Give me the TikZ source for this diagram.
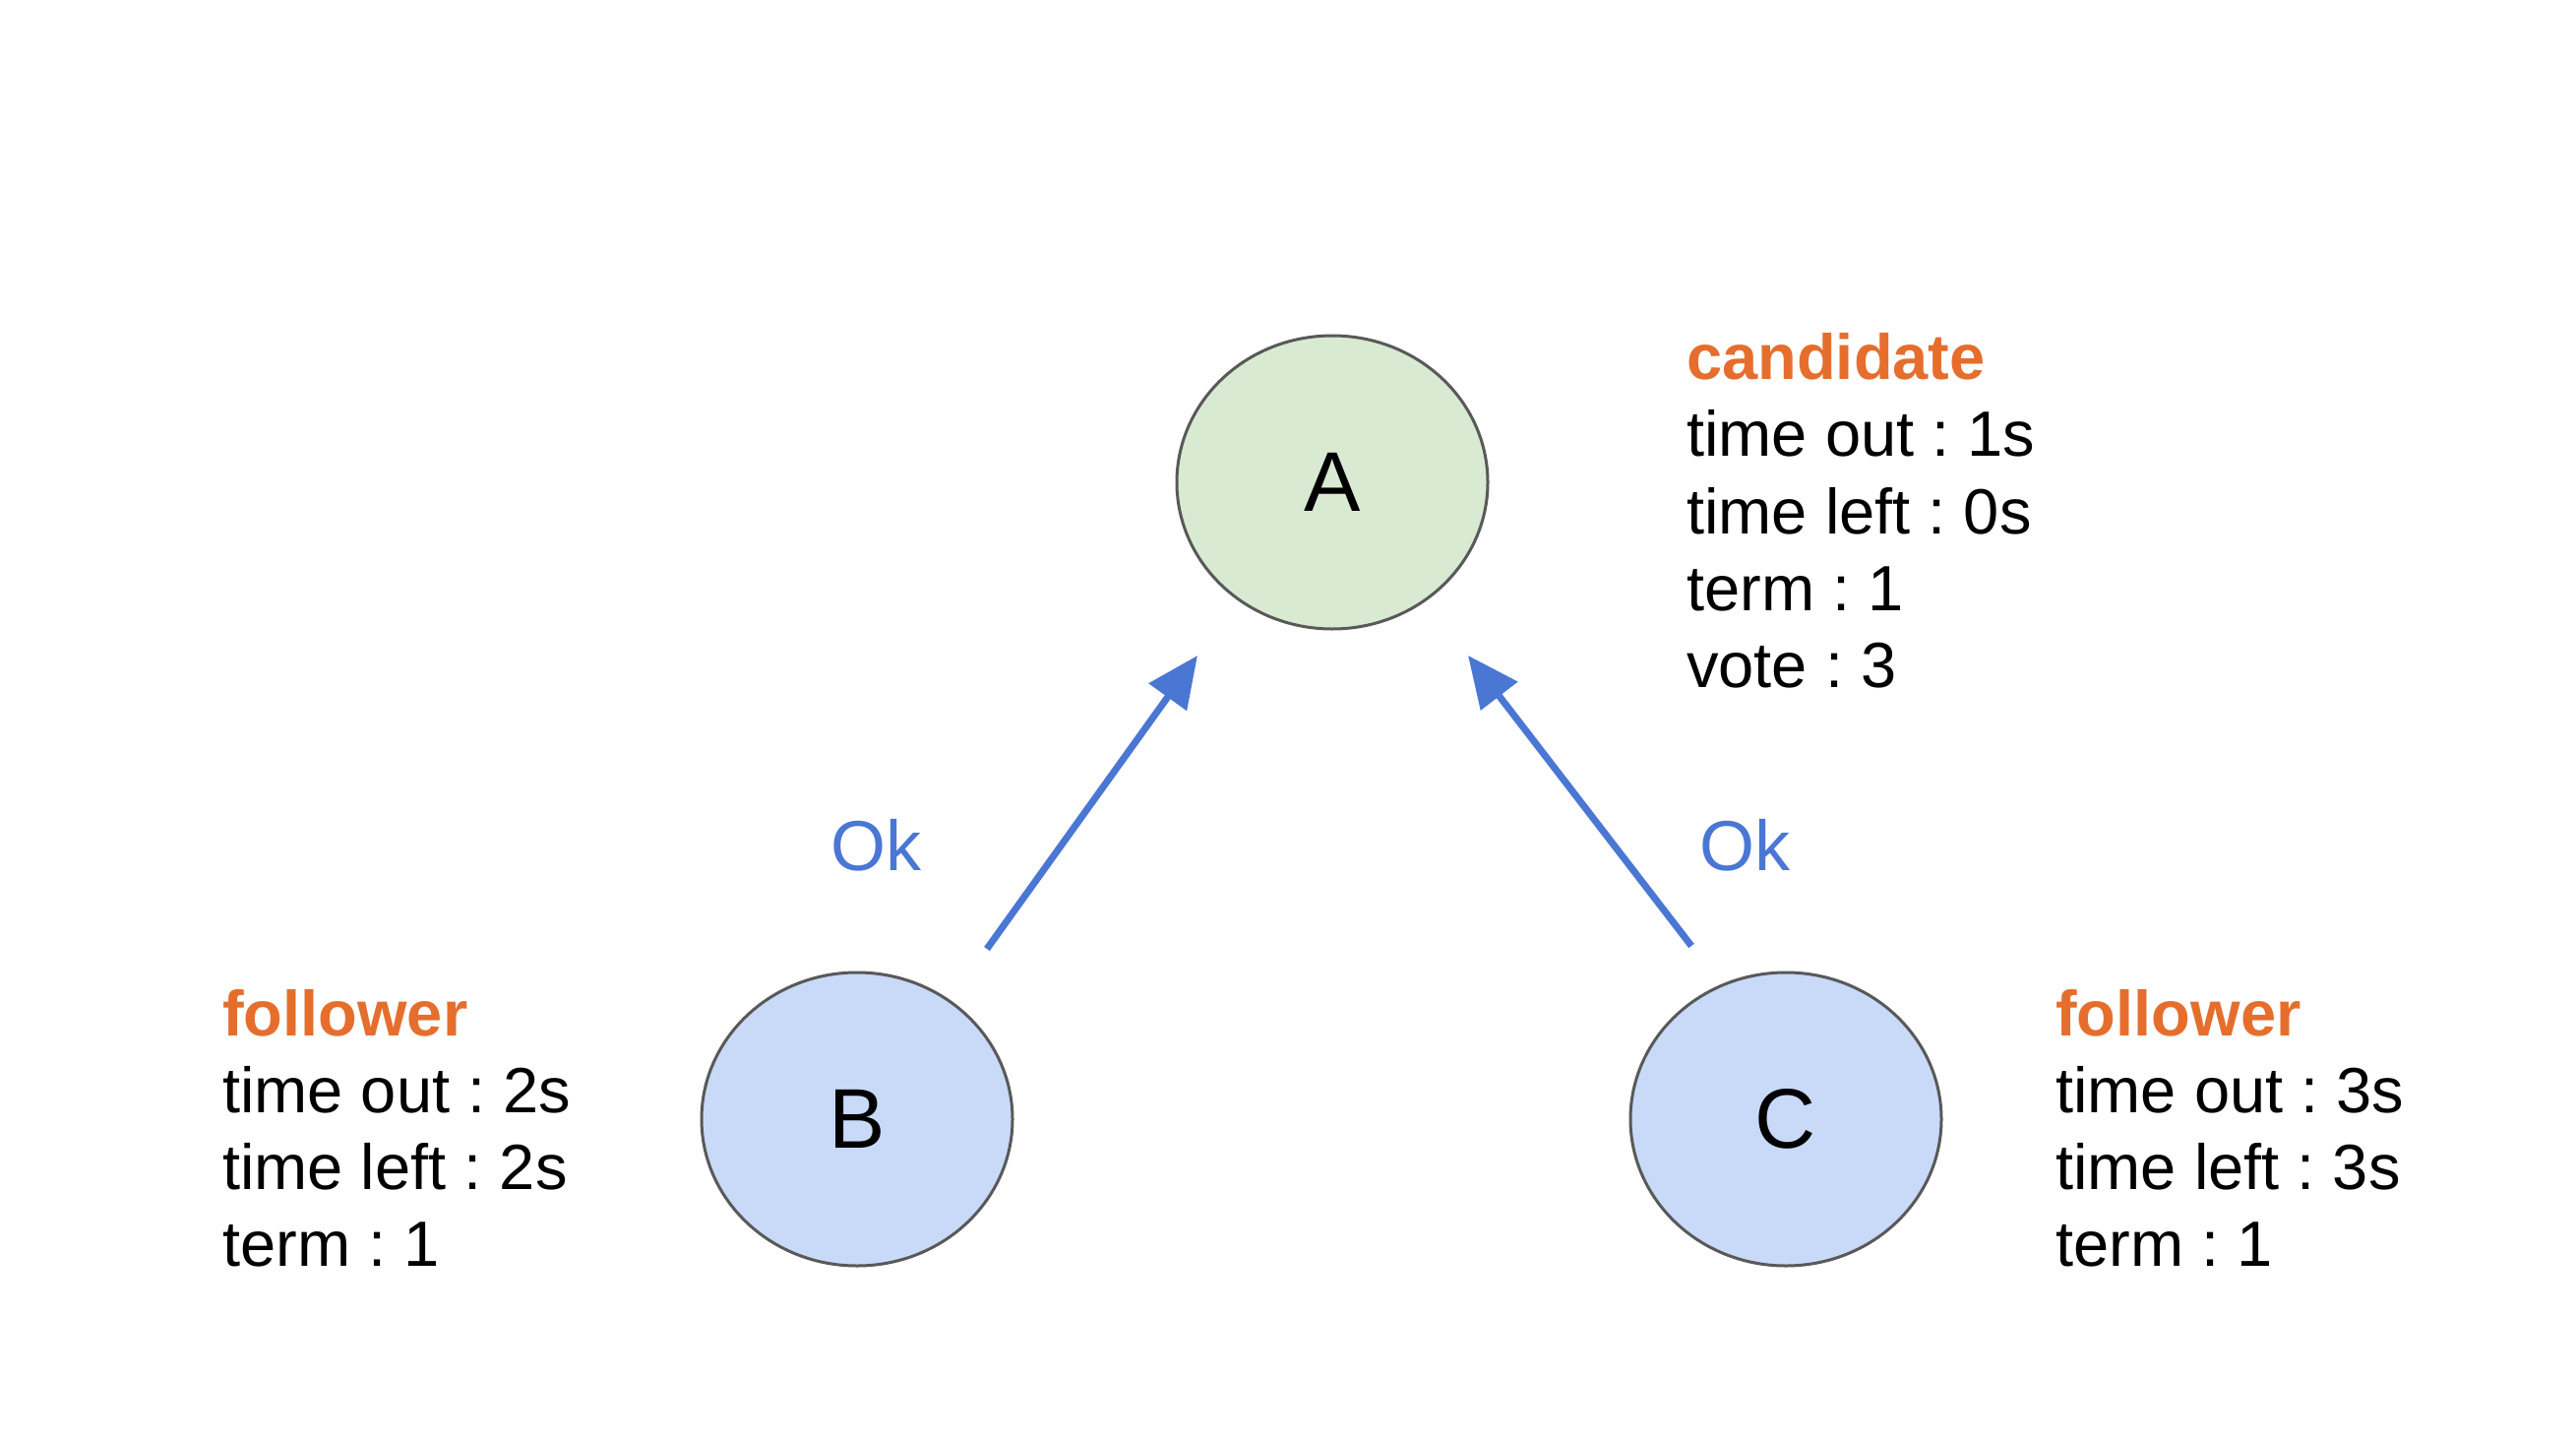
\documentclass[tikz,border=0pt]{standalone}
\usepackage{fontspec}
\setmainfont{Liberation Sans}
\usetikzlibrary{arrows.meta,shapes.geometric}
\definecolor{okblue}{RGB}{74,119,212}
\definecolor{roleorange}{RGB}{230,110,45}
\definecolor{nodegreen}{RGB}{217,234,211}
\definecolor{nodeblue}{RGB}{201,218,248}
\definecolor{rimgray}{RGB}{89,89,89}
\frenchspacing
\begin{document}
\begin{tikzpicture}[x=1pt,y=-1pt,
  srv/.style={ellipse, draw=rimgray, line width=3pt, minimum width=316pt, minimum height=298pt, inner sep=0pt, font=\fontsize{86}{100}\selectfont},
  info/.style={anchor=base west, inner sep=0pt, font=\fontsize{65}{78}\selectfont\frenchspacing},
  role/.style={info, text=roleorange, font=\fontsize{65}{78}\selectfont\bfseries},
  oklabel/.style={anchor=base west, inner sep=0pt, text=okblue, font=\fontsize{72}{86}\selectfont},
  okarrow/.style={draw=okblue, line width=7pt, -{Triangle[length=52pt,width=46pt]}}
]
\path[use as bounding box, fill=white] (0,0) rectangle (2618,1464);

\node[srv, fill=nodegreen] (A) at (1354,490) {A};
\node[srv, fill=nodeblue] (B) at (871,1137) {B};
\node[srv, fill=nodeblue] (C) at (1815,1137) {C};

\coordinate (bstart) at (1003,964);
\coordinate (btip) at (1217,666);
\coordinate (cstart) at (1719,961);
\coordinate (ctip) at (1492,666);
\draw[okarrow] (bstart) -- (btip);
\draw[okarrow] (cstart) -- (ctip);

\node[oklabel] (okb) at (844,884) {Ok};
\node[oklabel] (okc) at (1727,884) {Ok};

\node[role] (ar) at (1714,385) {candidate};
\node[info] (a1) at (1714,463) {time out : 1s};
\node[info] (a2) at (1714,542) {time left : 0s};
\node[info] (a3) at (1714,620) {term : 1};
\node[info] (a4) at (1714,698) {vote : 3};

\node[role] (br) at (226,1052) {follower};
\node[info] (b1) at (226,1130) {time out : 2s};
\node[info] (b2) at (226,1208) {time left : 2s};
\node[info] (b3) at (226,1286) {term : 1};

\node[role] (cr) at (2089,1052) {follower};
\node[info] (c1) at (2089,1130) {time out : 3s};
\node[info] (c2) at (2089,1208) {time left : 3s};
\node[info] (c3) at (2089,1286) {term : 1};
\end{tikzpicture}
\end{document}
